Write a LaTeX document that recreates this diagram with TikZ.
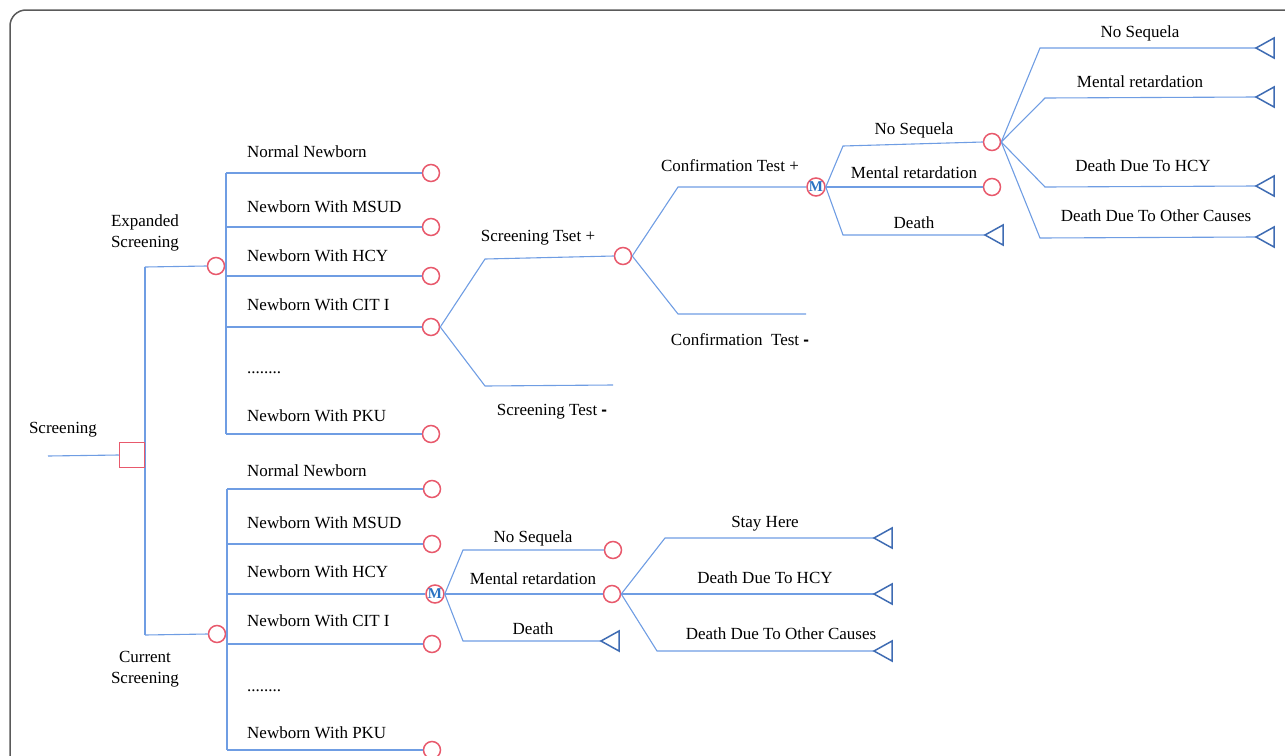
\documentclass[tikz,border=0pt]{standalone}
\usepackage{fontspec}
\setmainfont{Liberation Serif}
\newfontfamily\dashfont{Liberation Sans}
\definecolor{linec}{HTML}{6F9DE3}
\definecolor{chc}{HTML}{E8596C}
\definecolor{trc}{HTML}{3F6CB3}
\definecolor{mc}{HTML}{2A72C2}
\definecolor{framec}{HTML}{5A5A5A}
\newcommand\termtri[1]{\draw[trist] (#1) -- ++(18,-10) -- ++(0,20) -- cycle;}
\newcommand\bdash{{\dashfont\bfseries -}}
\begin{document}
\begin{tikzpicture}[x=1pt,y=-1pt,
  br/.style={draw=linec, line width=1.1pt},
  chance/.style={circle, draw=chc, line width=1.5pt, minimum size=17pt, inner sep=0pt, fill=white},
  mnode/.style={chance, minimum size=18pt, text=mc, font=\fontsize{15}{15}\selectfont\bfseries},
  dec/.style={rectangle, draw=chc, line width=1.5pt, minimum size=25pt, inner sep=0pt},
  trist/.style={draw=trc, line width=1.5pt, line join=miter},
  lab/.style={font=\fontsize{17}{21}\selectfont, inner sep=0pt, text=black},
  lw/.style={lab, anchor=west}
]
\useasboundingbox (0,0) rectangle (1285,755);
\begin{scope}
\clip (0,0) rectangle (1285,755);
\draw[framec, line width=1.5pt, rounded corners=16pt] (10,10) rectangle (1330,800);
\end{scope}

% root
\coordinate (start) at (48,456);
\coordinate (vtop) at (145,267);
\coordinate (vbot) at (145,635);
\draw[br] (vtop) -- (vbot);
\node[dec] (root) at (132,455) {};
\draw[br] (start) -- (root.west);
\node[lab] (tscr) at (63,430) {Screening};

\node[chance] (exp) at (216,266) {};
\node[chance] (cur) at (217,634) {};
\draw[br] (vtop) -- (exp.west);
\draw[br] (vbot) -- (cur.west);
\node[lab, align=center] (texp) at (145,233) {Expanded\\Screening};
\node[lab, align=center] (tcur) at (145,669) {Current\\Screening};

% upper group
\coordinate (u1) at (226,173);
\coordinate (u2) at (226,227);
\coordinate (u3) at (226,276);
\coordinate (u4) at (226,327);
\coordinate (u5) at (226,434);
\draw[br] (u1) -- (u5);
\node[chance] (c1) at (431,173) {};
\node[chance] (c2) at (431,227) {};
\node[chance] (c3) at (431,276) {};
\node[chance] (c4) at (431,327) {};
\node[chance] (c5) at (431,434) {};
\foreach \i in {1,...,5}{\draw[br] (u\i) -- (c\i.west);}
\node[lw] (a1) at (247,152) {Normal Newborn};
\node[lw] (a2) at (247,207) {Newborn With MSUD};
\node[lw] (a3) at (247,256) {Newborn With HCY};
\node[lw] (a4) at (247,305) {Newborn With CIT I};
\node[lw] (a5) at (247,373) {........};
\node[lw] (a6) at (247,416) {Newborn With PKU};

% lower group
\coordinate (l1) at (227,489);
\coordinate (l2) at (227,544);
\coordinate (l3) at (227,594);
\coordinate (l4) at (227,644);
\coordinate (l5) at (227,750);
\draw[br] (l1) -- (l5);
\node[chance] (d1) at (432,489) {};
\node[chance] (d2) at (432,544) {};
\node[chance] (d4) at (432,644) {};
\node[chance] (d5) at (432,750) {};
\draw[br] (l1) -- (d1.west);
\draw[br] (l2) -- (d2.west);
\draw[br] (l4) -- (d4.west);
\draw[br] (l5) -- (d5.west);
\node[lw] (b1) at (247,471) {Normal Newborn};
\node[lw] (b2) at (247,523) {Newborn With MSUD};
\node[lw] (b3) at (247,572) {Newborn With HCY};
\node[lw] (b4) at (247,621) {Newborn With CIT I};
\node[lw] (b5) at (247,691) {........};
\node[lw] (b6) at (247,733) {Newborn With PKU};

% CIT I branch (upper)
\node[chance] (sp) at (623,256) {};
\coordinate (s1) at (485,259);
\coordinate (s2) at (485,386);
\coordinate (s2e) at (613,385);
\draw[br] (c4.east) -- (s1) -- (sp.west);
\draw[br] (c4.east) -- (s2) -- (s2e);
\node[lab] (tsp) at (538,238) {Screening Tset +};
\node[lab] (tsm) at (552,412) {Screening Test \bdash};

\node[mnode] (m1) at (816,187) {M};
\coordinate (k1) at (678,187);
\coordinate (k2) at (678,314);
\coordinate (k2e) at (806,314);
\draw[br] (sp.east) -- (k1) -- (m1.west);
\draw[br] (sp.east) -- (k2) -- (k2e);
\node[lab] (tcp) at (730,166) {Confirmation Test +};
\node[lab] (tcm) at (740,340) {Confirmation\ \ Test \bdash};

\node[chance] (ns1) at (992,142) {};
\node[chance] (mr1) at (992,187) {};
\coordinate (dt1) at (985,235);
\coordinate (g1) at (843,146);
\coordinate (g3) at (843,235);
\draw[br] (m1.east) -- (g1) -- (ns1.west);
\draw[br] (m1.east) -- (mr1.west);
\draw[br] (m1.east) -- (g3) -- (dt1);
\termtri{dt1}
\node[lab] (tns1) at (914,130) {No Sequela};
\node[lab] (tmr1) at (914,173) {Mental retardation};
\node[lab] (tdt1) at (914,223) {Death};

% rightmost
\coordinate (r1) at (1040,48);
\coordinate (r2) at (1045,98);
\coordinate (r3) at (1045,187);
\coordinate (r4) at (1040,238);
\coordinate (q1) at (1256,48);
\coordinate (q2) at (1256,97);
\coordinate (q3) at (1256,186);
\coordinate (q4) at (1256,237);
\foreach \i in {1,...,4}{\draw[br] (ns1.east) -- (r\i) -- (q\i); \termtri{q\i}}
\node[lab] (tr1) at (1140,33) {No Sequela};
\node[lab] (tr2) at (1140,82) {Mental retardation};
\node[lab] (tr3) at (1143,166) {Death Due To HCY};
\node[lab] (tr4) at (1156,216) {Death Due To Other Causes};

% lower M branch
\node[mnode] (m2) at (435,594) {M};
\draw[br] (l3) -- (m2.west);
\node[chance] (ns2) at (613,550) {};
\node[chance] (mr2) at (612,594) {};
\coordinate (dt2) at (601,641);
\coordinate (h1) at (463,550);
\coordinate (h3) at (463,641);
\draw[br] (m2.east) -- (h1) -- (ns2.west);
\draw[br] (m2.east) -- (mr2.west);
\draw[br] (m2.east) -- (h3) -- (dt2);
\termtri{dt2}
\node[lab] (tns2) at (533,538) {No Sequela};
\node[lab] (tmr2) at (533,579) {Mental retardation};
\node[lab] (tdt2) at (533,629) {Death};

\coordinate (p1) at (665,538);
\coordinate (p3) at (657,651);
\coordinate (e1) at (874,538);
\coordinate (e2) at (874,594);
\coordinate (e3) at (874,651);
\draw[br] (mr2.east) -- (p1) -- (e1);
\draw[br] (mr2.east) -- (e2);
\draw[br] (mr2.east) -- (p3) -- (e3);
\termtri{e1}\termtri{e2}\termtri{e3}
\node[lab] (te1) at (765,524) {Stay Here};
\node[lab] (te2) at (765,578) {Death Due To HCY};
\node[lab] (te3) at (781,634) {Death Due To Other Causes};
\end{tikzpicture}
\end{document}
